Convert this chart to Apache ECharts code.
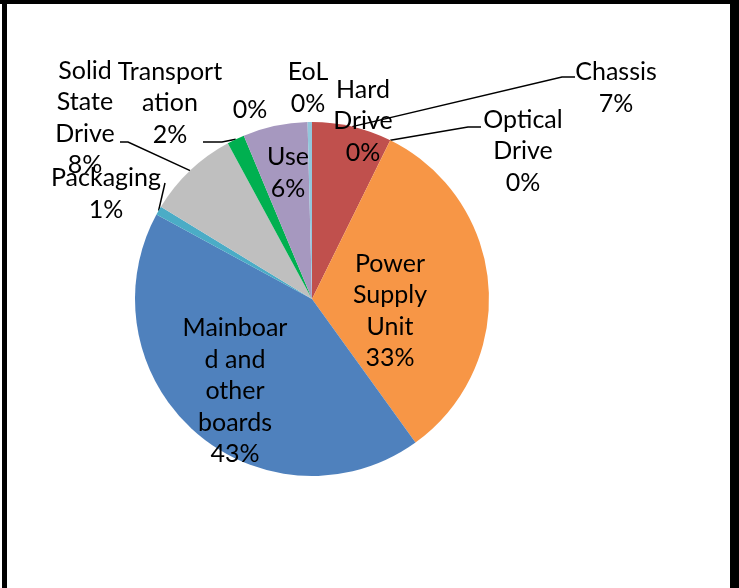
<!DOCTYPE html>
<html>
<head>
<meta charset="utf-8">
<script src="https://cdn.jsdelivr.net/npm/echarts@6/dist/echarts.min.js"></script>
<style>
  html, body { margin: 0; padding: 0; background: #fff; }
  #wrap { position: relative; width: 739px; height: 588px; overflow: hidden; background: #fff; }
  #chart { position: absolute; left: 0; top: 0; width: 739px; height: 588px; }
  .bd { position: absolute; background: #000; }
</style>
</head>
<body>
<div id="wrap">
  <div id="chart"></div>
  <div class="bd" style="left:0;top:0;width:739px;height:4px;"></div>
  <div class="bd" style="left:2px;top:0;width:5px;height:588px;"></div>
  <div class="bd" style="left:730px;top:0;width:9px;height:588px;"></div>
</div>
<script>
// ---- data ----
var categories = ["Chassis", "Hard Drive", "Optical Drive", "Power Supply Unit",
  "Mainboard and other boards", "Packaging", "Solid State Drive", "Transportation",
  "", "Use", "EoL"];
var values = [7.3, 0, 0, 32.8, 42.9, 0.8, 8.4, 1.6, 0, 5.9, 0.4];
// label text as wrapped in the original
var labelNames = ["Chassis", "Hard\nDrive", "Optical\nDrive", "Power\nSupply\nUnit",
  "Mainboar\nd and\nother\nboards", "Packaging", "Solid\nState\nDrive", "Transport\nation",
  "", "Use", "EoL"];

// ---- styles / layout ----
var colors = ["#C0504D", "#9BBB59", "#8064A2", "#F79646", "#4F81BD", "#4BACC6",
  "#BFBFBF", "#00B050", "#7F7F7F", "#A698BF", "#93C6DB"];
var labelPos = [
  [616, 88], [363, 121], [523, 151], [390, 311], [235, 391], [106, 194],
  [85, 118], [170, 103], [250, 110], [288, 173], [308, 88]
];
var leaderTail = {
  0: [[562, 77], [575, 77]],
  2: [[468, 127], [481, 127]],
  5: [[165, 183]],
  6: [[128, 142], [120, 142]],
  7: [[222, 142], [203, 142]]
};

var chart = echarts.init(document.getElementById('chart'), null, { renderer: 'canvas' });
var data = categories.map(function (c, i) {
  return {
    name: c,
    value: values[i],
    itemStyle: { color: colors[i] },
    labelLine: { show: !!leaderTail[i] }
  };
});

chart.setOption({
  animation: false,
  backgroundColor: '#ffffff',
  series: [{
    type: 'pie',
    center: [312, 299],
    radius: 177,
    startAngle: 90,
    clockwise: true,
    avoidLabelOverlap: false,
    percentPrecision: 0,
    minShowLabelAngle: 0,
    emphasis: { disabled: true },
    itemStyle: { borderWidth: 0 },
    label: {
      show: true,
      position: 'outside',
      color: '#000',
      fontFamily: 'Lato',
      fontSize: 25,
      lineHeight: 31.5,
      align: 'center',
      formatter: function (p) {
        var pct = Math.round(p.percent) + '%';
        var n = labelNames[p.dataIndex];
        return n ? n + '\n' + pct : pct;
      }
    },
    labelLine: {
      show: true,
      length: 10,
      length2: 10,
      smooth: false,
      lineStyle: { color: '#000', width: 1.5 }
    },
    labelLayout: function (params) {
      var i = params.dataIndex;
      var res = {
        x: labelPos[i][0],
        y: labelPos[i][1],
        align: 'center',
        verticalAlign: 'middle',
        hideOverlap: false,
        moveOverlap: null
      };
      if (leaderTail[i] && params.labelLinePoints) {
        res.labelLinePoints = [params.labelLinePoints[0]].concat(leaderTail[i]);
      }
      return res;
    },
    data: data
  }]
});
</script>
</body>
</html>
